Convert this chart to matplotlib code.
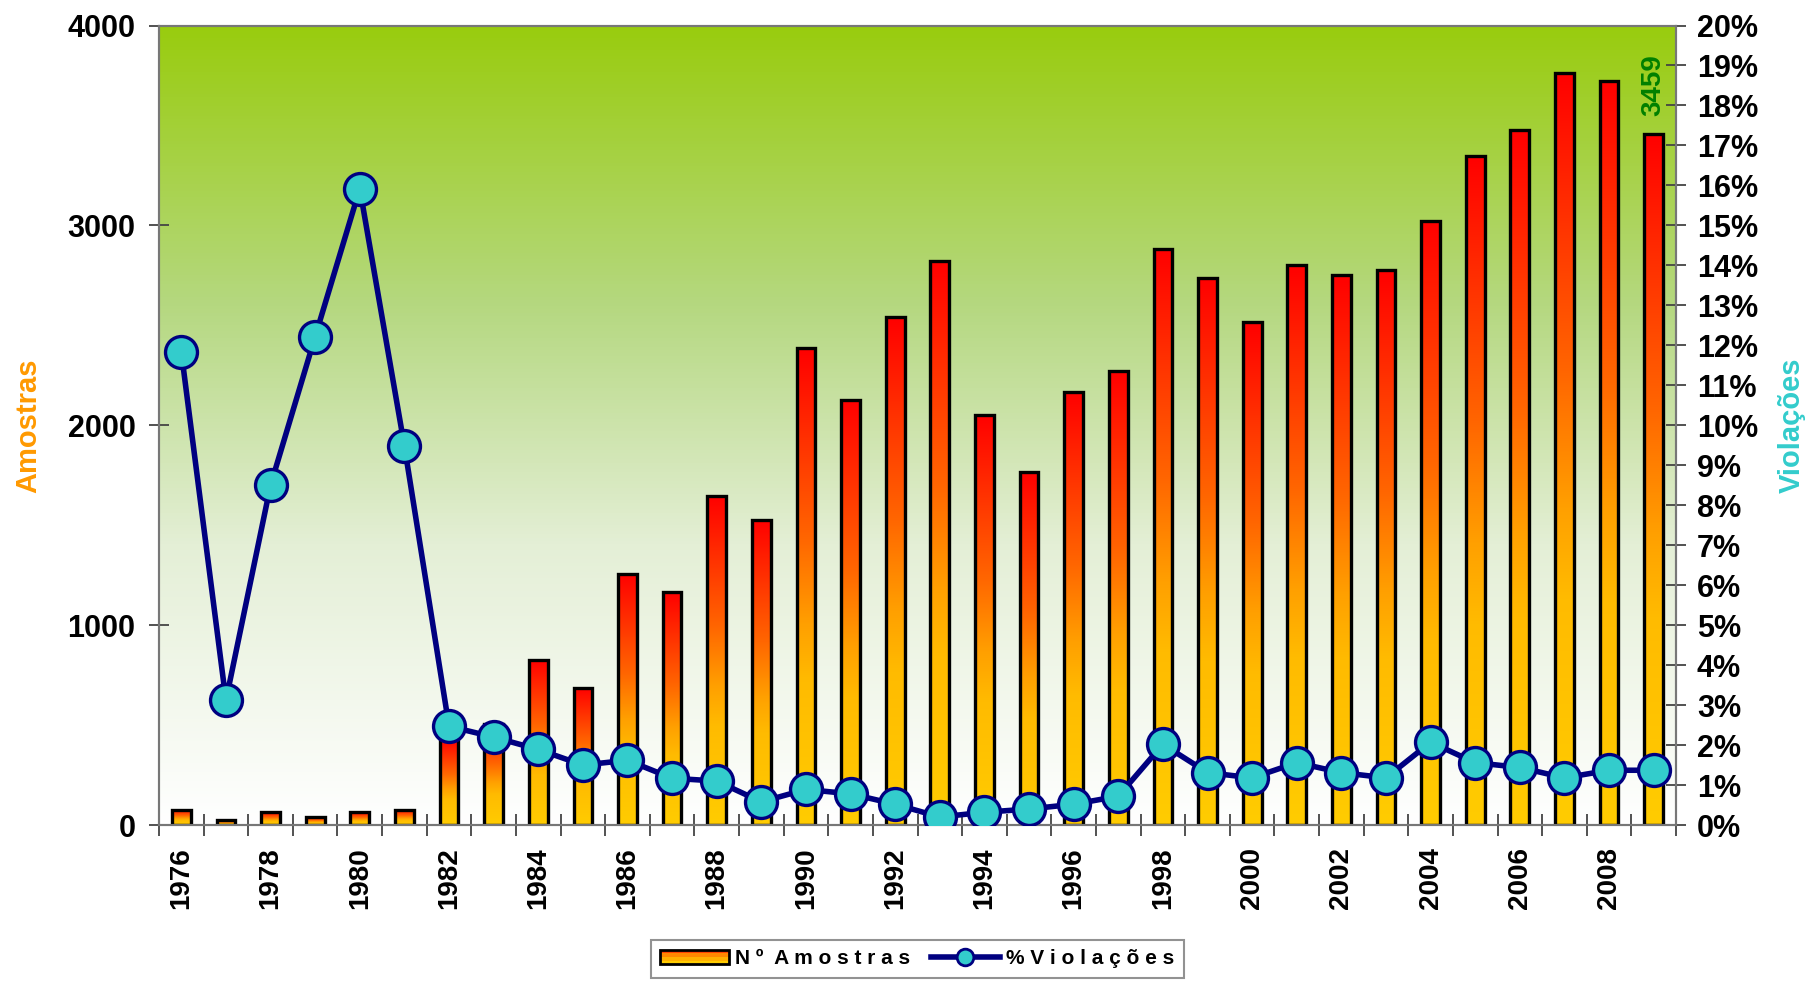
import numpy as np
import matplotlib
matplotlib.use('Agg')
import matplotlib.pyplot as plt
from matplotlib.colors import LinearSegmentedColormap
from matplotlib.patches import Rectangle
from matplotlib.lines import Line2D
from matplotlib.legend_handler import HandlerBase

plt.rcParams['font.family'] = ['Liberation Sans', 'DejaVu Sans']
plt.rcParams['font.weight'] = 'bold'

years = list(range(1976, 2010))
amostras = [76, 25, 63, 38, 63, 76, 430, 506, 828, 687,
            1256, 1164, 1648, 1527, 2386, 2127, 2542, 2824, 2052, 1764,
            2167, 2271, 2882, 2737, 2517, 2800, 2750, 2775, 3023, 3348,
            3477, 3763, 3723, 3459]
violacoes = [11.83, 3.12, 8.50, 12.22, 15.92, 9.48, 2.47, 2.20, 1.89, 1.50,
             1.62, 1.17, 1.10, 0.58, 0.89, 0.78, 0.52, 0.20, 0.32, 0.40,
             0.52, 0.72, 2.02, 1.31, 1.18, 1.56, 1.31, 1.18, 2.07, 1.56,
             1.44, 1.18, 1.37, 1.37]
xlabels = [str(y) if (y % 2 == 0) else '' for y in years]

bar_cmap = LinearSegmentedColormap.from_list(
    'bars', [(0, '#FFCC00'), (0.3, '#FFBB00'), (0.42, '#FFA000'),
             (0.6, '#FF6600'), (1, '#FF0000')])
bg_cmap = LinearSegmentedColormap.from_list(
    'bg', [(0, '#FFFFFF'), (0.35, '#E4EFD6'), (0.65, '#B5D880'), (1, '#99CC0E')])

fig = plt.figure(figsize=(18.07, 9.81), dpi=100)
ax = fig.add_axes([0.088, 0.159, 0.8395, 0.815])
x = np.arange(len(years))

# background gradient
grad = np.linspace(0, 1, 256).reshape(-1, 1)
ax.imshow(grad, cmap=bg_cmap, aspect='auto', extent=(0, 1, 0, 1),
          transform=ax.transAxes, origin='lower', zorder=0)

bars = ax.bar(x, amostras, width=0.42, facecolor='none', edgecolor='black',
              linewidth=2.4, zorder=3)
for b in bars:
    x0, w, h = b.get_x(), b.get_width(), b.get_height()
    ax.imshow(grad, cmap=bar_cmap, aspect='auto', origin='lower',
              extent=(x0, x0 + w, 0, h), zorder=2)

ax.set_xlim(-0.5, len(years) - 0.5)
ax.set_ylim(0, 4000)
ax.set_yticks([0, 1000, 2000, 3000, 4000])
ax.set_xticks(x)
ax.set_xticklabels(xlabels, rotation=90, fontsize=20, fontweight='bold')
ax.set_xticks(np.arange(len(years) + 1) - 0.5, minor=True)
ax.tick_params(axis='x', which='major', length=0, pad=16)
ax.tick_params(axis='x', which='minor', direction='inout', length=16, width=1.3, color='#444444')
ax.tick_params(axis='y', direction='inout', length=14, width=1.3, color='#444444',
               labelsize=22, pad=10)
for lab in ax.get_yticklabels():
    lab.set_fontweight('bold')
ax.set_ylabel('Amostras', color='#FF9900', fontsize=21, fontweight='bold', labelpad=18)
for s in ax.spines.values():
    s.set_color('#777777')
    s.set_linewidth(1.5)

ax.text(x[-1], amostras[-1] + 90, str(amostras[-1]), rotation=90, ha='center',
        va='bottom', color='#008000', fontsize=20, fontweight='bold', zorder=5)

ax2 = ax.twinx()
ax2.plot(x, violacoes, color='#000080', linewidth=4, marker='o', markersize=23,
         markerfacecolor='#33CCCC', markeredgecolor='#000080', markeredgewidth=2.4,
         zorder=4)
ax2.set_ylim(0, 20)
ax2.set_yticks(np.arange(0, 21, 1))
ax2.set_yticklabels([f'{v}%' for v in range(21)])
ax2.tick_params(axis='y', direction='inout', length=14, width=1.3, color='#444444',
                labelsize=22, pad=8)
for lab in ax2.get_yticklabels():
    lab.set_fontweight('bold')
ax2.set_ylabel('Violações', color='#33CCCC', fontsize=21, fontweight='bold',
               rotation=90, labelpad=14)
for s in ax2.spines.values():
    s.set_color('#777777')
    s.set_linewidth(1.5)


class GradientHandler(HandlerBase):
    def create_artists(self, legend, orig, xd, yd, width, height, fontsize, trans):
        out = []
        cols = ['#FFCC00', '#FFB000', '#FF8800', '#FF4400']
        n = len(cols)
        for i, c in enumerate(cols):
            r = Rectangle((-xd, -yd + height * i / n), width, height / n,
                          facecolor=c, edgecolor='none', transform=trans)
            out.append(r)
        out.append(Rectangle((-xd, -yd), width, height, facecolor='none',
                             edgecolor='black', linewidth=2, transform=trans))
        return out


bar_handle = Rectangle((0, 0), 1, 1)
line_handle = Line2D([], [], color='#000080', linewidth=4, marker='o', markersize=12,
                     markerfacecolor='#33CCCC', markeredgecolor='#000080',
                     markeredgewidth=2)
leg = fig.legend([bar_handle, line_handle],
                 ['N º  A m o s t r a s', '% V i o l a ç õ e s'],
                 handler_map={bar_handle: GradientHandler()},
                 loc='upper center', bbox_to_anchor=(0.5075, 0.042), ncol=2,
                 frameon=True, fancybox=False, edgecolor='#777777',
                 prop={'size': 15, 'weight': 'bold'}, handlelength=3.3,
                 handletextpad=0.3, columnspacing=1.0, borderpad=0.45,
                 borderaxespad=0)
leg.get_frame().set_linewidth(1.5)

fig.savefig('out.png', dpi=100)
